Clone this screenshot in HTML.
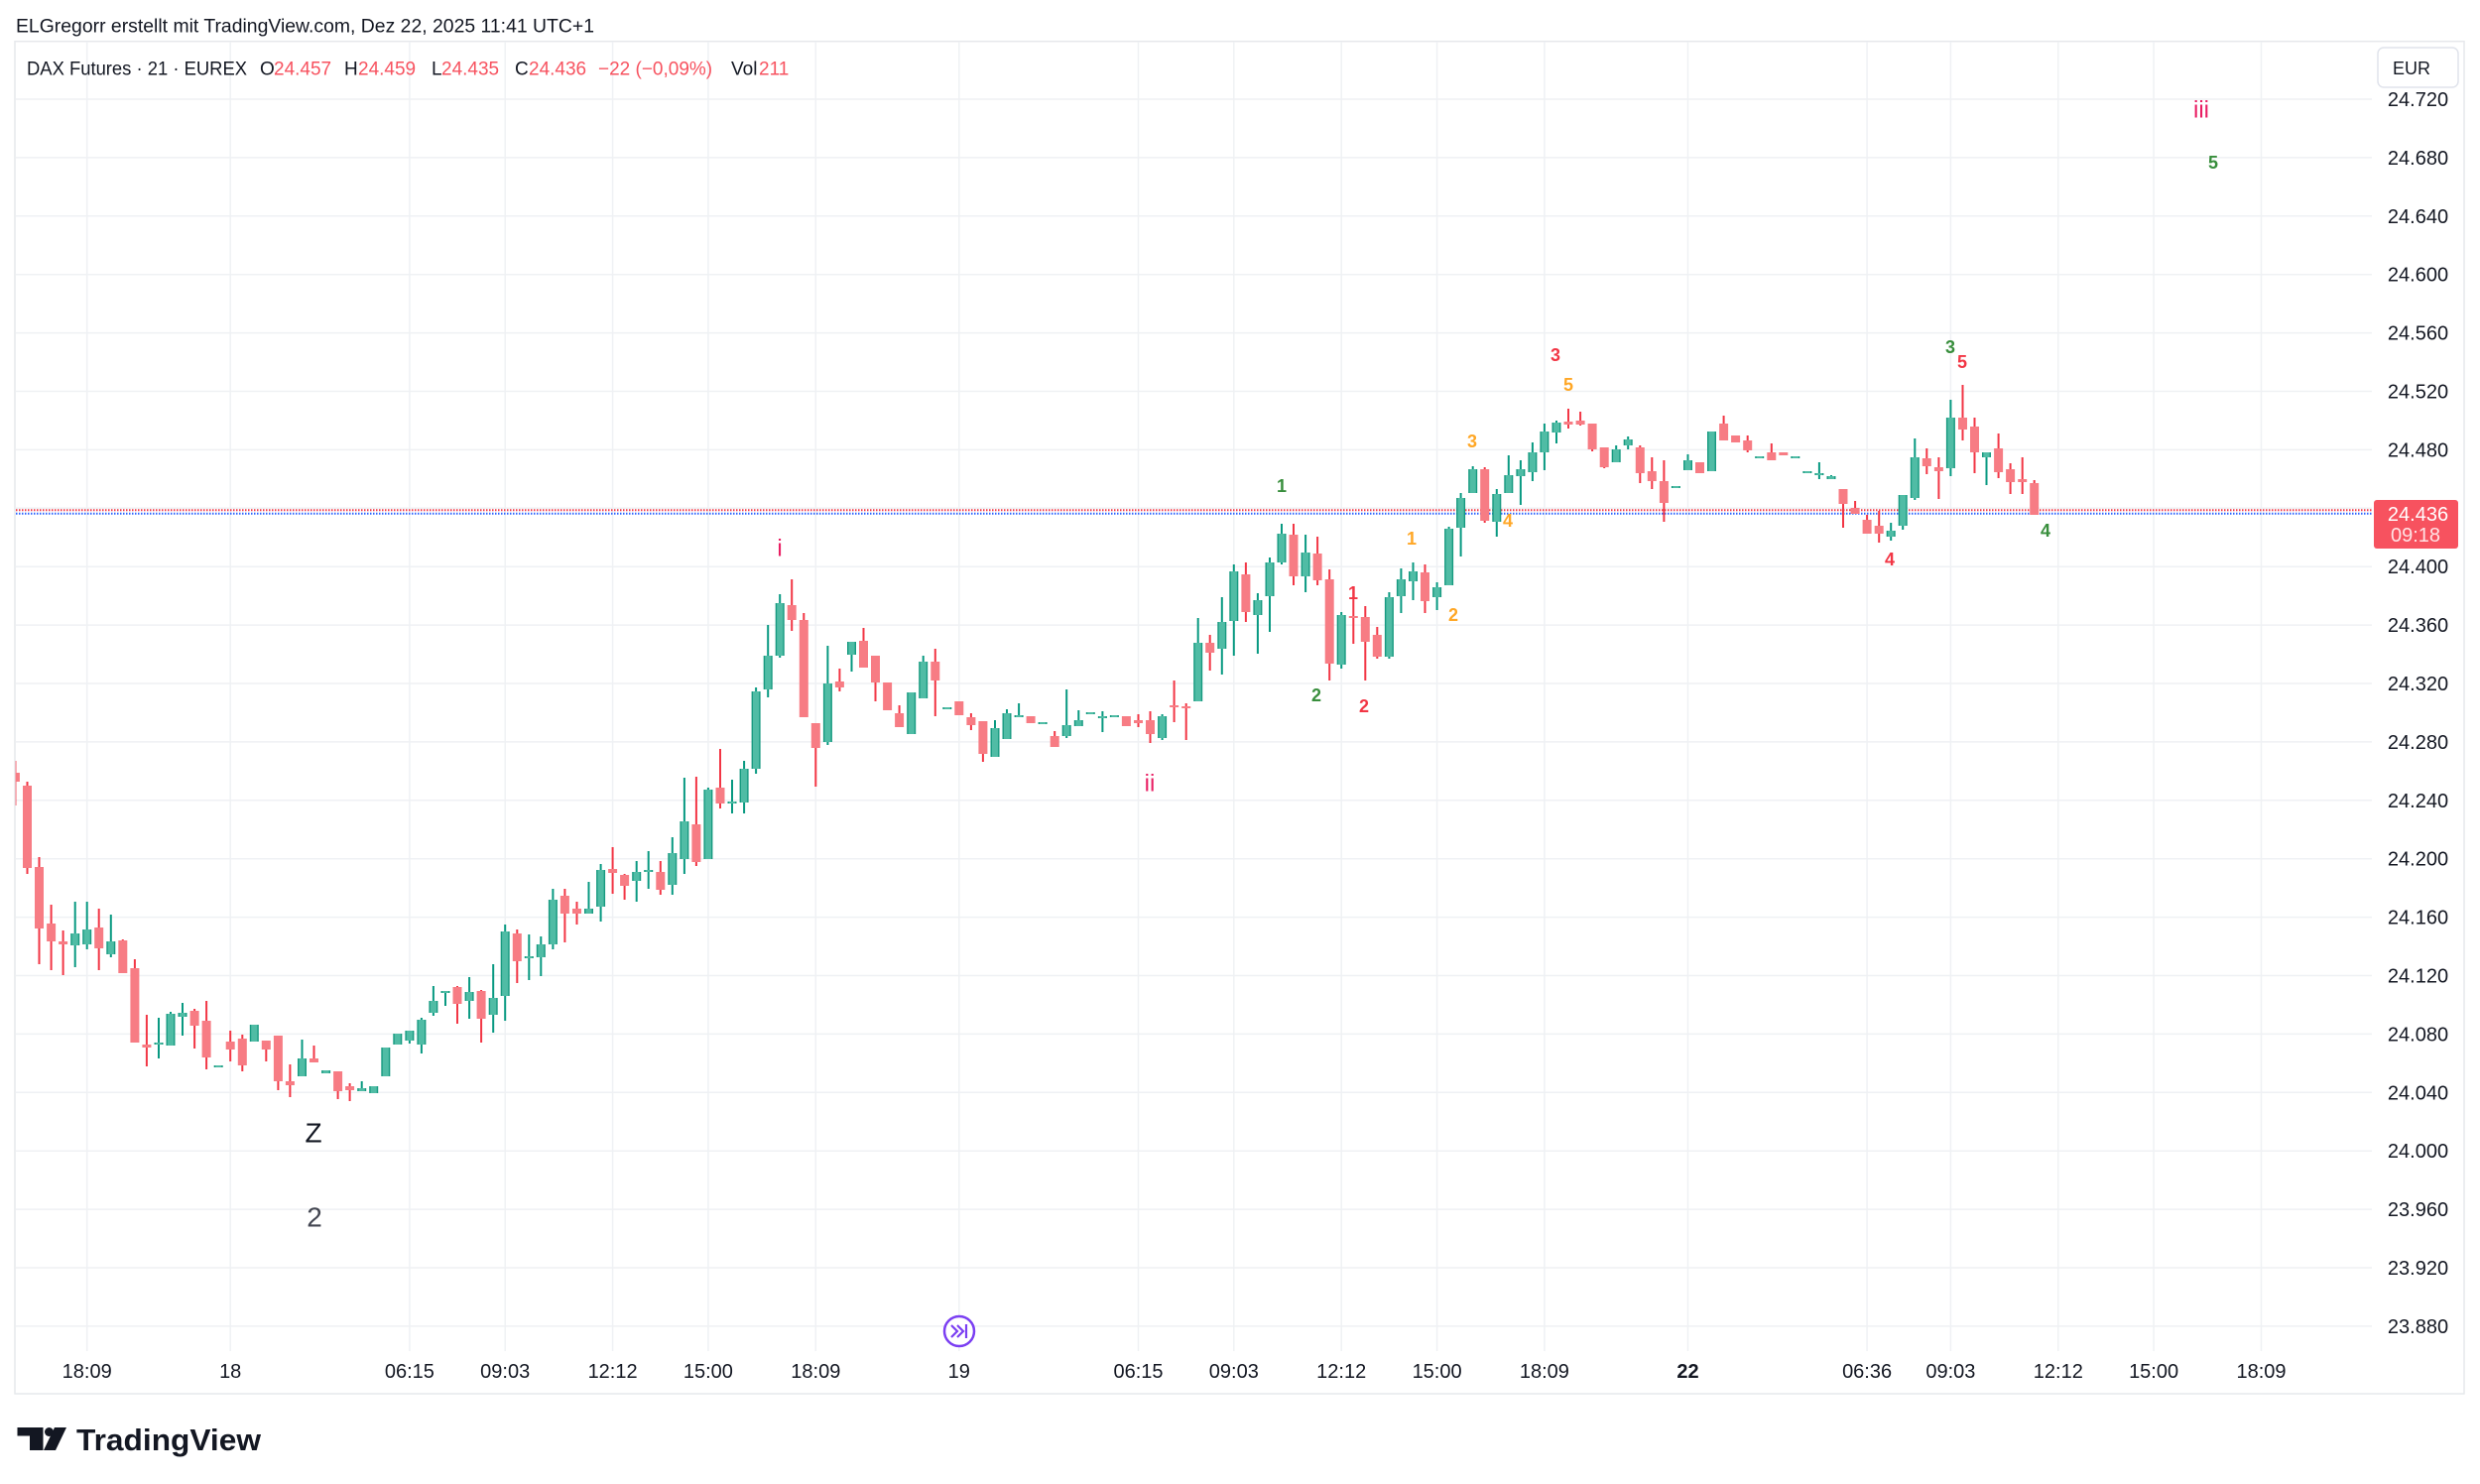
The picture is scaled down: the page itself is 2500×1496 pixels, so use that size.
<!DOCTYPE html>
<html><head><meta charset="utf-8"><style>
html,body{margin:0;padding:0;background:#fff;}
body{width:2500px;height:1496px;overflow:hidden;}
svg{display:block;font-family:"Liberation Sans",Arial,sans-serif;}
.t{fill:#131722;}
.lbl{font-weight:bold;font-size:18px;}
</style></head><body>
<svg width="2500" height="1496" viewBox="0 0 2500 1496" xmlns="http://www.w3.org/2000/svg">
<defs>
<clipPath id="plot"><rect x="15.7" y="42" width="2375.5" height="1320"/></clipPath>
<path id="gb" d="M75.7 941V953M87.7 937V952M111.8 949V962M160 1051V1053M172 1022V1054M184 1021V1025M220.2 1074V1076M256.3 1033V1050M304.5 1067V1085M328.6 1079V1082M364.7 1097V1100M376.7 1095V1102M388.8 1056V1085M400.8 1042V1053M412.9 1039V1049M424.9 1028V1053M436.9 1009V1021M449 999V1001M473.1 1000V1009M497.2 1006V1023M509.2 939V1004M533.3 964V966M545.3 952V965M557.4 907V952M593.5 916V921M605.6 877V914M641.7 879V888M653.7 877V879M677.8 860V892M689.9 828V866M713.9 796V866M738 808V810M750.1 775V809M762.1 697V775M774.2 661V695M786.2 608V661M834.4 689V748M858.5 647V660M918.7 698V740M930.7 667V704M954.8 713V715M1003 734V763M1015 719V745M1027.1 721V723M1051.1 728V730M1075.2 731V742M1087.3 726V732M1099.3 718V720M1111.4 722V724M1123.4 721V723M1171.6 722V744M1207.7 648V707M1231.8 627V654M1243.8 576V626M1267.9 605V620M1280 567V601M1292 538V567M1316.1 557V581M1352.2 620V670M1400.4 602V662M1412.4 584V601M1424.5 576V586M1448.6 592V602M1460.6 533V590M1472.6 502V532M1484.7 473V497M1508.8 498V526M1520.8 479V497M1532.9 473V480M1544.9 456V476M1556.9 435V456M1569 426V436M1629.2 453V466M1641.2 443V449M1689.4 490V492M1701.5 464V474M1725.5 435V475M1773.7 460V462M1809.8 460V462M1821.9 475V477M1833.9 477V479M1846 480V483M1906.2 535V541M1918.2 499V530M1930.3 461V502M1966.4 421V472M2002.5 456V461"/>
</defs>

<!-- header -->
<text class="t" x="16" y="27" font-size="19" dominant-baseline="central" textLength="583" lengthAdjust="spacingAndGlyphs">ELGregorr erstellt mit TradingView.com, Dez 22, 2025 11:41 UTC+1</text>

<!-- frame -->
<rect x="15" y="41.7" width="2469" height="1363.3" fill="none" stroke="#e6e8ec" stroke-width="1.5"/>

<!-- grid -->
<g stroke="#eff1f4" stroke-width="1.5" fill="none">
<path d="M16 100H2391M16 158.9H2391M16 217.8H2391M16 276.7H2391M16 335.6H2391M16 394.5H2391M16 453.4H2391M16 512.3H2391M16 571.2H2391M16 630.1H2391M16 689H2391M16 747.9H2391M16 806.8H2391M16 865.7H2391M16 924.6H2391M16 983.5H2391M16 1042.4H2391M16 1101.3H2391M16 1160.2H2391M16 1219.1H2391M16 1278H2391M16 1336.9H2391"/>
<path d="M87.7 42V1362M232.2 42V1362M412.9 42V1362M509.2 42V1362M617.6 42V1362M713.9 42V1362M822.3 42V1362M966.8 42V1362M1147.5 42V1362M1243.8 42V1362M1352.2 42V1362M1448.6 42V1362M1556.9 42V1362M1701.5 42V1362M1882.1 42V1362M1966.4 42V1362M2074.8 42V1362M2171.1 42V1362M2279.5 42V1362"/>
</g>

<!-- legend -->
<g font-size="19" dominant-baseline="central">
<text class="t" x="27" y="70" textLength="222" lengthAdjust="spacingAndGlyphs">DAX Futures · 21 · EUREX</text>
<text class="t" x="262" y="70">O</text><text x="276" y="70" fill="#f7525f">24.457</text>
<text class="t" x="347" y="70">H</text><text x="361" y="70" fill="#f7525f">24.459</text>
<text class="t" x="435" y="70">L</text><text x="445" y="70" fill="#f7525f">24.435</text>
<text class="t" x="519" y="70">C</text><text x="533" y="70" fill="#f7525f">24.436</text>
<text x="603" y="70" fill="#f7525f">−22 (−0,09%)</text>
<text class="t" x="737" y="70">Vol</text><text x="765" y="70" fill="#f7525f">211</text>
</g>

<!-- price lines -->
<path d="M16 514.3H2391" stroke="#f23645" stroke-width="2" stroke-dasharray="1.5 1.5"/>
<path d="M16 517.7H2391" stroke="#2962ff" stroke-width="2" stroke-dasharray="1.5 1.5"/>

<!-- candles -->
<g clip-path="url(#plot)" fill="none">
<path stroke="#f23645" stroke-width="2" d="M15.4 767V812M27.5 788V881M39.5 864V972M51.6 912V978M63.6 938V983M99.7 916V978M123.8 947V981M135.9 967V1051M147.9 1023V1075M196.1 1017V1057M208.1 1009V1078M232.2 1039V1070M244.3 1043V1080M268.3 1049V1070M280.4 1044V1099M292.4 1073V1106M316.5 1054V1071M340.6 1080V1108M352.6 1092V1110M461 994V1032M485.1 998V1051M521.3 937V991M569.4 896V950M581.5 909V932M617.6 854V901M629.6 881V907M665.8 868V902M701.9 783V873M726 755V815M798.2 584V636M810.3 618V723M822.3 729V793M846.4 674V697M870.5 633V673M882.5 661V707M906.6 711V733M942.8 654V722M978.9 719V736M990.9 727V768M1063.2 737V753M1147.5 720V733M1159.5 717V749M1183.6 686V728M1195.7 709V746M1219.7 640V676M1255.9 567V627M1304 528V590M1328.1 541V590M1340.2 574V686M1364.3 603V649M1376.3 611V686M1388.3 632V664M1436.5 569V618M1496.7 471V527M1581 412V432M1593.1 415V429M1605.1 427V455M1617.2 451V472M1653.3 449V487M1665.3 461V493M1677.4 464V526M1737.6 419V444M1761.7 439V456M1785.8 447V464M1858 493V532M1870.1 505V518M1882.1 519V538M1894.2 515V547M1942.3 452V478M1954.4 461V503M1978.5 388V444M1990.5 421V477M2014.6 437V482M2026.6 467V498M2038.7 461V498M2050.7 484V519"/>
<path stroke="#f77c84" stroke-width="9" d="M15.4 779V788M27.5 792V875M39.5 874V936M51.6 931V949M63.6 949V952M99.7 935V956M123.8 948V981M135.9 976V1051M147.9 1053V1056M196.1 1019V1034M208.1 1029V1066M232.2 1050V1058M244.3 1047V1074M268.3 1049V1058M280.4 1044V1090M292.4 1090V1094M316.5 1067V1071M340.6 1080V1100M352.6 1095V1099M461 995V1012M485.1 999V1027M521.3 941V969M569.4 903V921M581.5 916V921M617.6 876V880M629.6 882V893M665.8 879V897M701.9 831V869M726 794V810M798.2 610V625M810.3 625V723M822.3 729V754M846.4 687V693M870.5 646V673M882.5 661V688M894.6 688V716M906.6 719V733M942.8 667V686M966.8 707V721M978.9 723V731M990.9 727V760M1039.1 722V729M1063.2 742V753M1135.4 722V732M1147.5 726V729M1159.5 726V740M1183.6 711V713M1195.7 712V714M1219.7 648V658M1255.9 579V617M1304 539V581M1328.1 558V585M1340.2 584V669M1364.3 621V623M1376.3 622V647M1388.3 640V662M1436.5 577V606M1496.7 473V525M1581 425V428M1593.1 424V428M1605.1 427V453M1617.2 451V471M1653.3 451V477M1665.3 475V485M1677.4 485V507M1713.5 466V477M1737.6 427V444M1749.6 439V446M1761.7 444V454M1785.8 456V464M1797.8 456V459M1858 493V508M1870.1 512V518M1882.1 524V538M1894.2 530V538M1942.3 462V470M1954.4 471V475M1978.5 421V433M1990.5 430V456M2014.6 452V476M2026.6 473V486M2038.7 483V486M2050.7 487V519"/>
<path stroke="#089981" stroke-width="2" d="M75.7 909V975M87.7 909V957M111.8 922V965M160 1026V1067M172 1020V1054M184 1011V1044M304.5 1048V1085M364.7 1090V1100M412.9 1039V1052M424.9 1026V1062M436.9 994V1024M449 999V1014M473.1 985V1027M497.2 972V1041M509.2 932V1029M533.3 942V988M545.3 944V984M557.4 896V957M593.5 889V921M605.6 871V929M641.7 868V909M653.7 858V896M677.8 844V902M689.9 784V881M713.9 794V866M738 786V820M750.1 767V820M762.1 693V780M774.2 630V703M786.2 599V663M834.4 651V751M858.5 647V677M930.7 661V704M1003 726V763M1015 715V745M1027.1 709V722M1075.2 695V744M1087.3 716V732M1111.4 717V738M1171.6 720V746M1207.7 623V707M1231.8 602V680M1243.8 569V661M1267.9 598V659M1280 562V637M1292 528V569M1316.1 539V597M1352.2 617V674M1400.4 597V664M1412.4 573V618M1424.5 567V605M1448.6 587V615M1460.6 531V590M1472.6 497V561M1484.7 470V497M1508.8 493V541M1520.8 459V497M1532.9 464V509M1544.9 446V485M1556.9 427V474M1569 424V447M1629.2 449V466M1641.2 440V453M1701.5 458V474M1833.9 466V483M1846 479V483M1906.2 527V545M1918.2 499V534M1930.3 442V504M1966.4 403V480M2002.5 456V489"/>
<use href="#gb" stroke="#179a80" stroke-width="9"/>
<use href="#gb" stroke="#50bca5" stroke-width="6.2"/>
</g>

<!-- wave labels -->
<g text-anchor="middle" dominant-baseline="central">
<text x="316" y="1142" font-size="28" fill="#131722">Z</text>
<text x="317" y="1227" font-size="28" fill="#434651">2</text>
<text x="786" y="553" font-size="24" fill="#e91e63">i</text>
<text x="1159" y="790" font-size="24" fill="#e91e63">ii</text>
<text x="2219" y="111" font-size="24" fill="#e91e63">iii</text>
<g class="lbl">
<text x="1292" y="490" fill="#388e3c">1</text>
<text x="1327" y="701" fill="#388e3c">2</text>
<text x="1364" y="598" fill="#f23645">1</text>
<text x="1375" y="712" fill="#f23645">2</text>
<text x="1423" y="543" fill="#ffa726">1</text>
<text x="1465" y="620" fill="#ffa726">2</text>
<text x="1484" y="445" fill="#ffa726">3</text>
<text x="1520" y="525" fill="#ffa726">4</text>
<text x="1568" y="358" fill="#f23645">3</text>
<text x="1581" y="388" fill="#ffa726">5</text>
<text x="1966" y="350" fill="#388e3c">3</text>
<text x="1978" y="365" fill="#f23645">5</text>
<text x="1905" y="564" fill="#f23645">4</text>
<text x="2062" y="535" fill="#388e3c">4</text>
<text x="2231" y="164" fill="#388e3c">5</text>
</g>
</g>

<!-- price axis -->
<rect x="2397" y="48" width="81" height="40" rx="6" fill="#fff" stroke="#e0e3eb" stroke-width="1.5"/>
<text class="t" x="2412" y="69" font-size="18" dominant-baseline="central">EUR</text>
<g class="t" font-size="20" text-anchor="middle" dominant-baseline="central">
<text x="2437.5" y="101">24.720</text>
<text x="2437.5" y="159.9">24.680</text>
<text x="2437.5" y="218.8">24.640</text>
<text x="2437.5" y="277.7">24.600</text>
<text x="2437.5" y="336.6">24.560</text>
<text x="2437.5" y="395.5">24.520</text>
<text x="2437.5" y="454.4">24.480</text>
<text x="2437.5" y="572.2">24.400</text>
<text x="2437.5" y="631.1">24.360</text>
<text x="2437.5" y="690">24.320</text>
<text x="2437.5" y="748.9">24.280</text>
<text x="2437.5" y="807.8">24.240</text>
<text x="2437.5" y="866.7">24.200</text>
<text x="2437.5" y="925.6">24.160</text>
<text x="2437.5" y="984.5">24.120</text>
<text x="2437.5" y="1043.4">24.080</text>
<text x="2437.5" y="1102.3">24.040</text>
<text x="2437.5" y="1161.2">24.000</text>
<text x="2437.5" y="1220.1">23.960</text>
<text x="2437.5" y="1279">23.920</text>
<text x="2437.5" y="1337.9">23.880</text>
</g>
<rect x="2393" y="504" width="85" height="49" rx="3" fill="#f7525f"/>
<g font-size="20" text-anchor="middle" dominant-baseline="central">
<text x="2437.5" y="519" fill="#ffffff">24.436</text>
<text x="2435" y="540" fill="#ffe3e5">09:18</text>
</g>

<!-- time axis -->
<g class="t" font-size="20" text-anchor="middle" dominant-baseline="central">
<text x="87.7" y="1383">18:09</text>
<text x="232.2" y="1383">18</text>
<text x="412.9" y="1383">06:15</text>
<text x="509.2" y="1383">09:03</text>
<text x="617.6" y="1383">12:12</text>
<text x="713.9" y="1383">15:00</text>
<text x="822.3" y="1383">18:09</text>
<text x="966.8" y="1383">19</text>
<text x="1147.5" y="1383">06:15</text>
<text x="1243.8" y="1383">09:03</text>
<text x="1352.2" y="1383">12:12</text>
<text x="1448.6" y="1383">15:00</text>
<text x="1556.9" y="1383">18:09</text>
<text x="1701.5" y="1383" font-weight="bold">22</text>
<text x="1882.1" y="1383">06:36</text>
<text x="1966.4" y="1383">09:03</text>
<text x="2074.8" y="1383">12:12</text>
<text x="2171.1" y="1383">15:00</text>
<text x="2279.5" y="1383">18:09</text>
</g>

<!-- jump icon -->
<circle cx="967" cy="1342" r="15" fill="#fff" stroke="#7b3ff2" stroke-width="2.5"/>
<path d="M959 1336l6 6-6 6M965 1336l6 6-6 6M974 1335v14" fill="none" stroke="#7b3ff2" stroke-width="2.2"/>

<!-- logo -->
<g fill="#131722" transform="translate(0,-4)">
<path d="M17.5 1443H43.5V1466H30V1451.5H17.5Z"/>
<circle cx="49.5" cy="1447.5" r="4.5"/>
<path d="M55 1443H67L56 1466H44Z"/>
<text x="77" y="1466" font-size="31" font-weight="bold" textLength="186" lengthAdjust="spacingAndGlyphs">TradingView</text>
</g>
</svg>
</body></html>
